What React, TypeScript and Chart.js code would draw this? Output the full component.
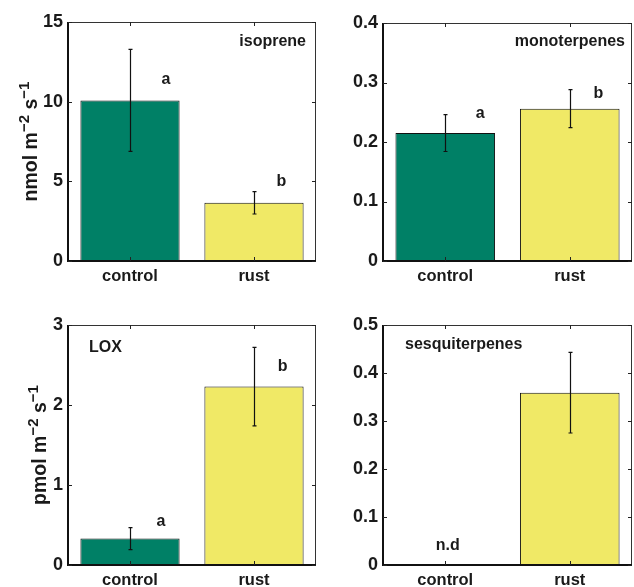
import React, { useEffect, useRef } from 'react';
import { Chart, registerables } from 'chart.js';

Chart.register(...registerables);

// ---------- data ----------
const categories = ['control', 'rust'];

const isopreneValues = [10.08, 3.65];
const isopreneErrors = [3.2, 0.7];
const isopreneTicks = [0, 5, 10, 15];

const monoterpeneValues = [0.215, 0.256];
const monoterpeneErrors = [0.031, 0.032];
const monoterpeneTicks = [0, 0.1, 0.2, 0.3, 0.4];

const loxValues = [0.33, 2.23];
const loxErrors = [0.137, 0.49];
const loxTicks = [0, 1, 2, 3];

const sesquiterpeneValues: (number | null)[] = [null, 0.359];
const sesquiterpeneErrors = [0, 0.084];
const sesquiterpeneTicks = [0, 0.1, 0.2, 0.3, 0.4, 0.5];

const isopreneLetters = ['a', 'b'];
const monoterpeneLetters = ['a', 'b'];
const loxLetters = ['a', 'b'];
const sesquiterpeneLetters = ['n.d', ''];

const barColors = ['#008066', '#F0E966'];
const FONT = '"Liberation Sans", Arial, Helvetica, sans-serif';
const INK = '#1a1a1a';

type Panel = {
  key: string;
  left: number; top: number; width: number; height: number;
  area: { left: number; top: number; right: number; bottom: number };
  values: (number | null)[];
  errors: number[];
  ticks: number[];
  name: string;
  nameAlign: 'left' | 'right';
  nameDx: number; nameDy: number;
  letters: string[];
  letterDx: number[];
  letterAt: number[];
  yTitle?: { unit: string; x: number };
};

const panels: Panel[] = [
  {
    key: 'iso', left: 0, top: 0, width: 317, height: 290,
    area: { left: 68, top: 22, right: 316, bottom: 261 },
    values: isopreneValues, errors: isopreneErrors, ticks: isopreneTicks,
    name: 'isoprene', nameAlign: 'right', nameDx: -10, nameDy: 19.5,
    letters: isopreneLetters, letterDx: [0.29, 0.22], letterAt: [11.4, 4.96],
    yTitle: { unit: 'nmol', x: 37 },
  },
  {
    key: 'mono', left: 317, top: 0, width: 317, height: 290,
    area: { left: 66, top: 23, right: 315, bottom: 261 },
    values: monoterpeneValues, errors: monoterpeneErrors, ticks: monoterpeneTicks,
    name: 'monoterpenes', nameAlign: 'right', nameDx: -7, nameDy: 18.7,
    letters: monoterpeneLetters, letterDx: [0.28, 0.23], letterAt: [0.247, 0.282],
  },
  {
    key: 'lox', left: 0, top: 290, width: 317, height: 297,
    area: { left: 68, top: 35, right: 316, bottom: 275 },
    values: loxValues, errors: loxErrors, ticks: loxTicks,
    name: 'LOX', nameAlign: 'left', nameDx: 21, nameDy: 23,
    letters: loxLetters, letterDx: [0.25, 0.23], letterAt: [0.54, 2.48],
    yTitle: { unit: 'pmol', x: 46 },
  },
  {
    key: 'sesq', left: 317, top: 290, width: 317, height: 297,
    area: { left: 66, top: 35, right: 315, bottom: 275 },
    values: sesquiterpeneValues, errors: sesquiterpeneErrors, ticks: sesquiterpeneTicks,
    name: 'sesquiterpenes', nameAlign: 'left', nameDx: 22, nameDy: 20,
    letters: sesquiterpeneLetters, letterDx: [0.02, 0], letterAt: [0.041, 0],
  },
];

function makeDecor(p: Panel) {
  return {
    id: 'decor_' + p.key,
    afterDraw(chart: any) {
      const ctx: CanvasRenderingContext2D = chart.ctx;
      const a = chart.chartArea;
      const xs = chart.scales.x;
      const ys = chart.scales.y;
      ctx.save();

      // error bars
      ctx.strokeStyle = '#111';
      ctx.lineWidth = 1.2;
      p.values.forEach((v, i) => {
        if (v == null || !p.errors[i]) return;
        const x = Math.round(xs.getPixelForValue(i)) + 0.5;
        const yHi = ys.getPixelForValue(v + p.errors[i]);
        const yLo = ys.getPixelForValue(v - p.errors[i]);
        ctx.beginPath();
        ctx.moveTo(x, yHi); ctx.lineTo(x, yLo);
        ctx.moveTo(x - 2, yHi); ctx.lineTo(x + 2, yHi);
        ctx.moveTo(x - 2, yLo); ctx.lineTo(x + 2, yLo);
        ctx.stroke();
      });

      // box: thin top/right
      ctx.strokeStyle = '#333';
      ctx.lineWidth = 1;
      ctx.beginPath();
      ctx.moveTo(a.left, a.top + 0.5); ctx.lineTo(a.right, a.top + 0.5);
      ctx.moveTo(a.right - 0.5, a.top); ctx.lineTo(a.right - 0.5, a.bottom);
      ctx.stroke();
      // thick left/bottom
      ctx.strokeStyle = '#111';
      ctx.lineWidth = 2;
      ctx.beginPath();
      ctx.moveTo(a.left, a.top); ctx.lineTo(a.left, a.bottom + 1);
      ctx.moveTo(a.left - 1, a.bottom); ctx.lineTo(a.right, a.bottom);
      ctx.stroke();

      // inward ticks
      ctx.strokeStyle = '#222';
      ctx.lineWidth = 1;
      ctx.beginPath();
      p.ticks.forEach((t) => {
        const y = Math.round(ys.getPixelForValue(t)) + 0.5;
        ctx.moveTo(a.left, y); ctx.lineTo(a.left + 4, y);
        ctx.moveTo(a.right, y); ctx.lineTo(a.right - 4, y);
      });
      categories.forEach((_, i) => {
        const x = Math.round(xs.getPixelForValue(i)) + 0.5;
        ctx.moveTo(x, a.bottom); ctx.lineTo(x, a.bottom - 4);
        ctx.moveTo(x, a.top); ctx.lineTo(x, a.top + 4);
      });
      ctx.stroke();

      // significance letters
      ctx.fillStyle = INK;
      ctx.font = `bold 16px ${FONT}`;
      ctx.textAlign = 'center';
      ctx.textBaseline = 'middle';
      p.letters.forEach((l, i) => {
        if (!l) return;
        ctx.fillText(l, xs.getPixelForValue(i + p.letterDx[i]), ys.getPixelForValue(p.letterAt[i]));
      });

      // panel name
      ctx.textAlign = p.nameAlign;
      const nx = p.nameAlign === 'right' ? a.right + p.nameDx : a.left + p.nameDx;
      ctx.fillText(p.name, nx, a.top + p.nameDy);

      // y title with superscripts
      if (p.yTitle) {
        const big = `bold 19.5px ${FONT}`;
        const small = `bold 15px ${FONT}`;
        const parts: [string, string, number][] = [
          [p.yTitle.unit + ' m', big, 0],
          ['\u22122', small, -8],
          [' s', big, 0],
          ['\u22121', small, -8],
        ];
        let total = 0;
        parts.forEach(([t, f]) => { ctx.font = f; total += ctx.measureText(t).width; });
        const cy = (a.top + a.bottom) / 2;
        ctx.translate(p.yTitle.x, cy);
        ctx.rotate(-Math.PI / 2);
        ctx.textAlign = 'left';
        ctx.textBaseline = 'alphabetic';
        let cx = -total / 2;
        parts.forEach(([t, f, dy]) => {
          ctx.font = f;
          ctx.fillText(t, cx, dy);
          cx += ctx.measureText(t).width;
        });
      }
      ctx.restore();
    },
  };
}

function PanelChart({ p }: { p: Panel }) {
  const ref = useRef<HTMLCanvasElement | null>(null);
  useEffect(() => {
    if (!ref.current) return;
    const chart = new Chart(ref.current, {
      type: 'bar',
      data: {
        labels: categories,
        datasets: [
          {
            data: p.values as any,
            backgroundColor: barColors,
            borderColor: '#111',
            borderWidth: 1,
            barPercentage: 0.8,
            categoryPercentage: 1,
          },
        ],
      },
      options: {
        responsive: false,
        animation: false,
        devicePixelRatio: 1,
        layout: {
          padding: { left: 0, top: p.area.top, right: p.width - p.area.right, bottom: 0 },
        },
        plugins: { legend: { display: false }, tooltip: { enabled: false }, title: { display: false } },
        scales: {
          x: {
            type: 'category',
            offset: true,
            grid: { display: false, drawTicks: false },
            border: { display: false },
            ticks: { color: INK, font: { family: FONT, size: 16.5, weight: 'bold' }, padding: 6, maxRotation: 0 },
            afterFit: (s: any) => { s.height = p.height - p.area.bottom; },
          },
          y: {
            type: 'linear',
            min: 0,
            max: p.ticks[p.ticks.length - 1],
            grid: { display: false, drawTicks: false },
            border: { display: false },
            ticks: {
              color: INK,
              font: { family: FONT, size: 18, weight: 'bold' },
              padding: 5,
              callback: (v: any) => String(v),
            },
            afterBuildTicks: (s: any) => { s.ticks = p.ticks.map((v) => ({ value: v })); },
            afterFit: (s: any) => { s.width = p.area.left; },
          },
        },
      },
      plugins: [makeDecor(p)],
    } as any);
    return () => chart.destroy();
  }, [p]);
  return (
    <canvas
      ref={ref}
      width={p.width}
      height={p.height}
      style={{ position: 'absolute', left: p.left, top: p.top, width: p.width, height: p.height }}
    />
  );
}

export default function App() {
  return (
    <div style={{ position: 'absolute', left: 0, top: 0, width: 634, height: 587, background: '#fff', overflow: 'hidden' }}>
      {panels.map((p) => (
        <PanelChart key={p.key} p={p} />
      ))}
    </div>
  );
}
